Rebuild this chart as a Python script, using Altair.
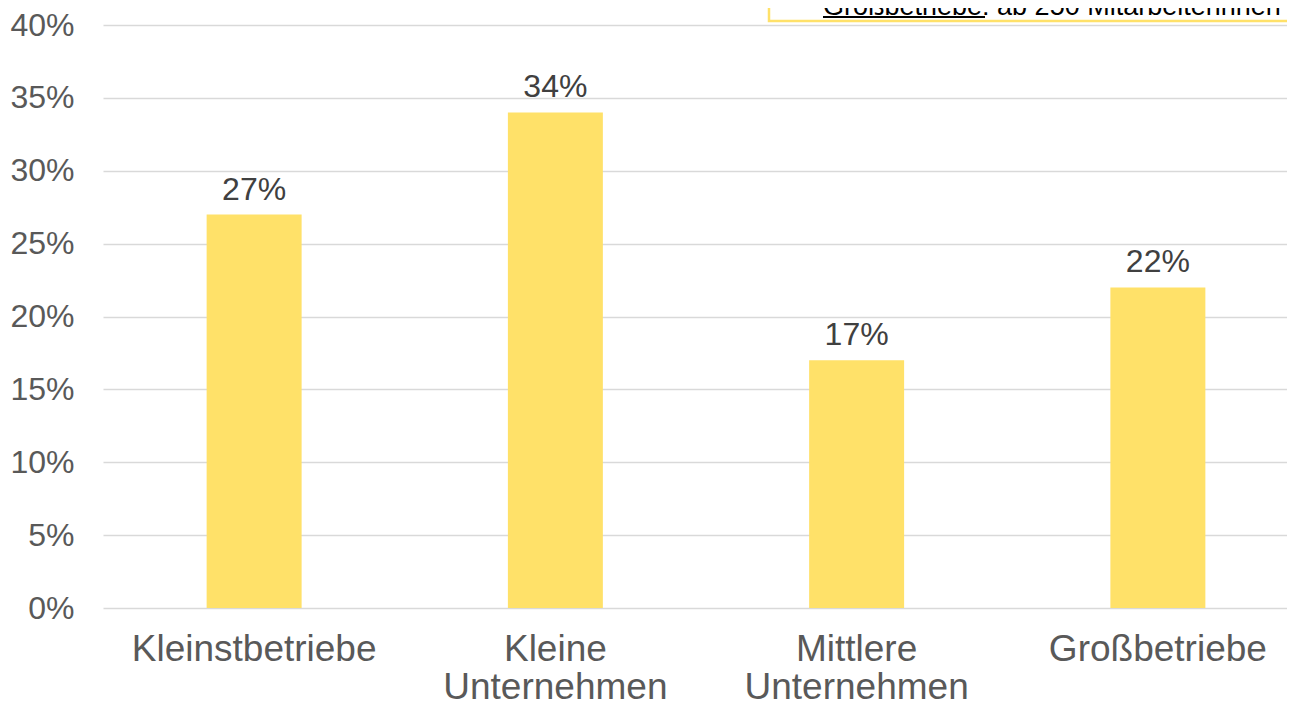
import altair as alt
import pandas as pd

categories = ["Kleinstbetriebe", "Kleine Unternehmen", "Mittlere Unternehmen", "Großbetriebe"]
values = [0.27, 0.34, 0.17, 0.22]
y_ticks = [0, 0.05, 0.10, 0.15, 0.20, 0.25, 0.30, 0.35, 0.40]
note_text = "Großbetriebe: ab 250 Mitarbeiterinnen"

df = pd.DataFrame({"Kategorie": categories, "Anteil": values})

FONT = "Liberation Sans"
BAR = "#FFE169"
SHIFT = 11

x = alt.X(
    "Kategorie:N",
    sort=categories,
    title=None,
    scale=alt.Scale(paddingInner=0.6847, paddingOuter=0.3075),
    axis=alt.Axis(
        labelAngle=0,
        labelFontSize=37,
        labelColor="#595959",
        labelFont=FONT,
        labelPadding=23,
        labelLineHeight=38,
        labelBaseline="top",
        labelLimit=0,
        labelOffset=SHIFT,
        labelExpr="split(datum.label, ' ')",
        ticks=False,
        domain=False,
        grid=False,
    ),
)
y = alt.Y(
    "Anteil:Q",
    title=None,
    scale=alt.Scale(domain=[0, 0.4117], nice=False),
    axis=alt.Axis(
        values=y_ticks,
        format=".0%",
        labelFontSize=32,
        labelColor="#595959",
        labelFont=FONT,
        labelPadding=29,
        ticks=False,
        domain=False,
        grid=True,
        gridColor="#D9D9D9",
        gridWidth=1.5,
    ),
)

base = alt.Chart(df)
bars = base.mark_bar(color=BAR, xOffset=SHIFT).encode(x=x, y=y)
labels = base.mark_text(
    fontSize=32, color="#404040", font=FONT, dy=-15, baseline="alphabetic", xOffset=SHIFT
).encode(
    x=alt.X("Kategorie:N", sort=categories),
    y="Anteil:Q",
    text=alt.Text("Anteil:Q", format=".0%"),
)

note_df = pd.DataFrame({"t": [note_text]})
box = alt.Chart(note_df).mark_rect(fill="white", stroke="#FFE169", strokeWidth=2.5).encode(
    x=alt.value(666), x2=alt.value(1400), y=alt.value(-40), y2=alt.value(13)
)
note = alt.Chart(note_df).mark_text(
    fontSize=27, font=FONT, color="#000000", align="left", baseline="alphabetic"
).encode(x=alt.value(720), y=alt.value(7), text="t:N")
underline = alt.Chart(note_df).mark_rule(color="#000000", strokeWidth=2).encode(
    x=alt.value(720), x2=alt.value(882), y=alt.value(9)
)

chart = (
    alt.layer(bars, labels, box, note, underline)
    .properties(
        width=1184,
        height=600,
        autosize=alt.AutoSizeParams(type="none"),
        padding={"left": 95, "top": 0, "right": 0, "bottom": 95},
    )
    .configure_view(stroke=None)
)

chart.save("out.html", embed_options={"renderer": "svg", "actions": False})
